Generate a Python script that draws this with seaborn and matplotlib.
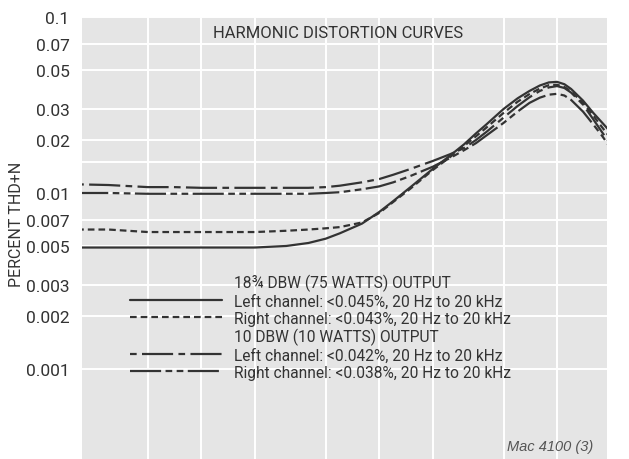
import matplotlib
matplotlib.use("Agg")
import matplotlib.pyplot as plt
from matplotlib.lines import Line2D
from matplotlib.ticker import FixedLocator, NullFormatter
import seaborn as sns
import pandas as pd

# Frequency points (Hz) and THD+N readings (percent) for each channel / power level
freq = [20, 30, 50, 70, 100, 150, 200, 300, 400, 500, 600, 800, 1000, 1200, 1500,
        2000, 2500, 3000, 3500, 4000, 5000, 6000, 7000, 8000, 9000, 10000, 11000,
        12000, 14000, 16000, 18000, 20000]

left_75w = [0.0049, 0.0049, 0.0049, 0.0049, 0.0049, 0.0049, 0.0049, 0.0050, 0.0052,
            0.0055, 0.0059, 0.0067, 0.0078, 0.0090, 0.0108, 0.0137, 0.0163, 0.0189,
            0.0218, 0.0245, 0.0300, 0.0345, 0.0380, 0.0408, 0.0425, 0.0428, 0.0415,
            0.0390, 0.0335, 0.0285, 0.0250, 0.0222]

right_75w = [0.0062, 0.0062, 0.0060, 0.0060, 0.0060, 0.0060, 0.0060, 0.0061, 0.0062,
             0.0063, 0.0064, 0.0068, 0.0077, 0.0089, 0.0106, 0.0135, 0.0160, 0.0185,
             0.0210, 0.0235, 0.0285, 0.0330, 0.0365, 0.0392, 0.0410, 0.0412, 0.0400,
             0.0378, 0.0325, 0.0275, 0.0235, 0.0205]

left_10w = [0.0112, 0.0111, 0.0108, 0.0108, 0.0107, 0.0107, 0.0107, 0.0107, 0.0107,
            0.0108, 0.0110, 0.0115, 0.0120, 0.0127, 0.0137, 0.0152, 0.0166, 0.0180,
            0.0200, 0.0222, 0.0268, 0.0312, 0.0350, 0.0380, 0.0398, 0.0405, 0.0395,
            0.0372, 0.0318, 0.0262, 0.0220, 0.0190]

right_10w = [0.0100, 0.0100, 0.0099, 0.0099, 0.0099, 0.0099, 0.0099, 0.0099, 0.0099,
             0.0100, 0.0101, 0.0105, 0.0109, 0.0115, 0.0125, 0.0141, 0.0158, 0.0175,
             0.0192, 0.0212, 0.0250, 0.0290, 0.0325, 0.0348, 0.0362, 0.0366, 0.0358,
             0.0338, 0.0290, 0.0245, 0.0210, 0.0180]

series_names = ["L75", "R75", "L10", "R10"]
legend_labels = [
    "18\u00be DBW (75 WATTS) OUTPUT",
    "Left channel: <0.045%, 20 Hz to 20 kHz",
    "Right channel: <0.043%, 20 Hz to 20 kHz",
    "10 DBW (10 WATTS) OUTPUT",
    "Left channel: <0.042%, 20 Hz to 20 kHz",
    "Right channel: <0.038%, 20 Hz to 20 kHz",
]
ytick_values = [0.1, 0.07, 0.05, 0.03, 0.02, 0.01, 0.007, 0.005, 0.003, 0.002, 0.001]
ytick_labels = ["0.1", "0.07", "0.05", "0.03", "0.02", "0.01", "0.007", "0.005",
                "0.003", "0.002", "0.001"]
xgrid_values = [50, 100, 200, 500, 1000, 2000, 5000, 10000]

df = pd.concat([
    pd.DataFrame({"freq": freq, "thd": vals, "series": name})
    for name, vals in zip(series_names, [left_75w, right_75w, left_10w, right_10w])
], ignore_index=True)

INK = "#333333"
BG = "#e5e5e5"

sns.set_style("white")
plt.rcParams["font.family"] = ["Roboto", "DejaVu Sans"]
plt.rcParams["text.color"] = INK
plt.rcParams["ytick.color"] = INK

fig = plt.figure(figsize=(6.29, 4.60), dpi=100, facecolor="white")
ax = fig.add_axes([82 / 629, 0.0, 525 / 629, 442 / 460])
ax.set_facecolor(BG)

dash_styles = {
    "L75": "",
    "R75": (3.0, 1.8),
    "L10": (3.0, 2.4, 14.0, 2.4),
    "R10": (14.0, 2.0, 3.0, 2.0, 3.0, 2.0),
}

sns.lineplot(data=df, x="freq", y="thd", style="series", dashes=dash_styles,
             style_order=series_names, color=INK, linewidth=1.6, legend=False,
             ax=ax, zorder=3)

ax.set_xscale("log")
ax.set_yscale("log")
ax.set_xlim(21.3, 19100)
ax.set_ylim(0.000308, 0.1)

# Grid: white rules on the grey field
ax.xaxis.set_major_locator(FixedLocator(xgrid_values))
ax.xaxis.set_minor_locator(FixedLocator([]))
ax.xaxis.set_major_formatter(NullFormatter())
ax.yaxis.set_major_locator(FixedLocator(ytick_values))
ax.yaxis.set_minor_locator(FixedLocator([0.015]))
ax.set_yticklabels(ytick_labels)
ax.yaxis.set_minor_formatter(NullFormatter())
ax.grid(True, which="both", color="white", linewidth=1.4)
ax.tick_params(axis="both", which="both", length=0)
ax.tick_params(axis="y", labelsize=12.5, pad=9)
ax.set_xlabel("")
ax.set_ylabel("")
for s in ax.spines.values():
    s.set_visible(False)

fig.text(17 / 629, 1 - 224 / 460, "PERCENT THD+N", rotation=90,
         ha="center", va="center", fontsize=11.5, color=INK)

ax.text(0.488, 0.966, "HARMONIC DISTORTION CURVES", transform=ax.transAxes,
        ha="center", va="center", fontsize=12, color=INK)

# Legend built from the drawn lines, with blank handles for the group headers
lines = ax.get_lines()[:4]
blank = Line2D([], [], linestyle="none")
handles = []
for ln in lines:
    h = Line2D([], [], color=INK, linewidth=1.5)
    h.update_from(ln)
    handles.append(h)
leg_handles = [blank, handles[0], handles[1], blank, handles[2], handles[3]]
ax.legend(leg_handles, legend_labels, loc="upper left",
          bbox_to_anchor=(130 / 629, 1 - 275 / 460), bbox_transform=fig.transFigure,
          frameon=False, fontsize=11.2, handlelength=5.9, handletextpad=0.8,
          labelspacing=0.14, borderpad=0, borderaxespad=0)

ax.text(593 / 629, 1 - 447 / 460, "Mac 4100 (3)", transform=fig.transFigure,
        ha="right", va="center", fontsize=10.5, style="italic", color="#555555",
        family=["Liberation Sans", "DejaVu Sans"])

fig.savefig("out.png", dpi=100, facecolor="white")
